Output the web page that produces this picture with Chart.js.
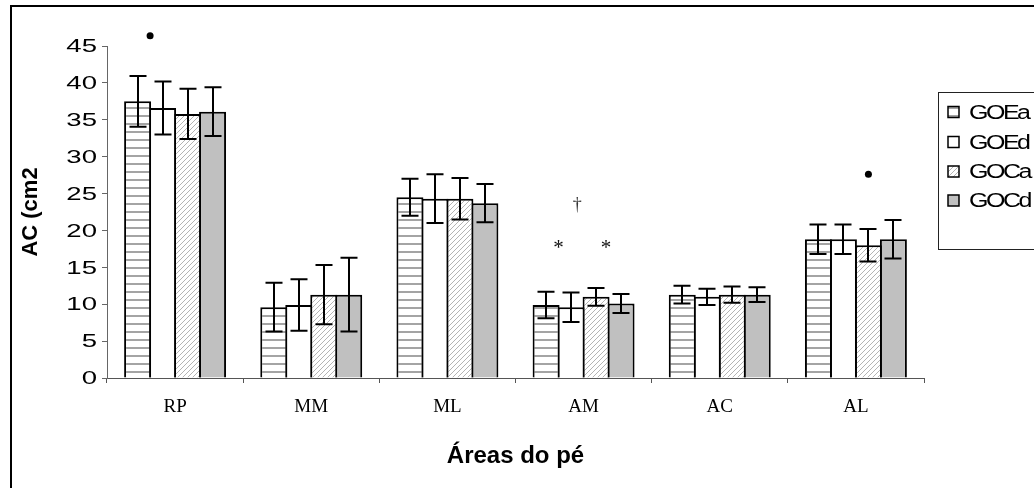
<!DOCTYPE html>
<html>
<head>
<meta charset="utf-8">
<script src="https://cdn.jsdelivr.net/npm/chart.js@4/dist/chart.umd.min.js"></script>
<style>
  html, body { margin: 0; padding: 0; background: #fff; }
  #wrap { width: 1034px; height: 488px; }
</style>
</head>
<body>
<div id="wrap"><canvas id="c" width="1034" height="488"></canvas></div>
<script>
// Foot areas and the four groups
const categories = ['RP', 'MM', 'ML', 'AM', 'AC', 'AL'];
const seriesNames = ['GOEa', 'GOEd', 'GOCa', 'GOCd'];

// Mean contact area (cm²) per area
const goeA = [37.5, 9.6, 24.5, 9.9, 11.3, 18.8];
const goeD = [36.6, 9.9, 24.3, 9.6, 11.0, 18.8];
const gocA = [35.8, 11.3, 24.3, 11.0, 11.3, 18.0];
const gocD = [36.1, 11.3, 23.7, 10.1, 11.3, 18.8];

// Standard deviations (error bar half-lengths)
const goeAErr = [3.45, 3.3, 2.5, 1.8, 1.2, 2.0];
const goeDErr = [3.6, 3.5, 3.3, 2.0, 1.1, 2.0];
const gocAErr = [3.4, 4.0, 2.8, 1.2, 1.1, 2.2];
const gocDErr = [3.3, 5.0, 2.6, 1.3, 1.0, 2.6];

// Value axis ticks
const yTicks = [0, 5, 10, 15, 20, 25, 30, 35, 40, 45];

// Significance marks: symbol, area, position among the bars, height
const markSymbols = ['•', '*', '†', '*', '•'];
const markCategory = ['RP', 'AM', 'AM', 'AM', 'AL'];
const markSlot = [0.5, 0.5, 1.25, 2.4, 2];
const markValues = [46.4, 18.2, 23.4, 18.2, 27.6];

const seriesValues = [goeA, goeD, gocA, gocD];
const seriesErrors = [goeAErr, goeDErr, gocAErr, gocDErr];

// Fill patterns
function tile(w, h, draw) {
  const t = document.createElement('canvas');
  t.width = w; t.height = h;
  const g = t.getContext('2d');
  g.fillStyle = '#fff';
  g.fillRect(0, 0, w, h);
  draw(g, w, h);
  return document.getElementById('c').getContext('2d').createPattern(t, 'repeat');
}
const stripes = tile(8, 8, (g, w) => {
  g.fillStyle = '#a4a4a4';
  g.fillRect(0, 3, w, 2);
});
const hatch = tile(5, 5, (g, s) => {
  g.fillStyle = '#b4b4b4';
  for (let i = 0; i < s; i++) g.fillRect(i, s - 1 - i, 1, 1);
});
const fills = [stripes, '#ffffff', hatch, '#c0c0c0'];

// Outer frame of the figure
const framePlugin = {
  id: 'frame',
  beforeDraw(chart) {
    const ctx = chart.ctx;
    ctx.save();
    ctx.fillStyle = '#000';
    ctx.fillRect(10, 5, 2, chart.height);
    ctx.fillRect(10, 5, chart.width, 2);
    ctx.restore();
  }
};

// Error bars and significance marks
const errorPlugin = {
  id: 'errorBars',
  afterDatasetsDraw(chart) {
    const ctx = chart.ctx;
    const y = chart.scales.y;
    ctx.save();
    ctx.strokeStyle = '#000';
    ctx.lineWidth = 2;
    seriesErrors.forEach((errs, di) => {
      const meta = chart.getDatasetMeta(di);
      meta.data.forEach((bar, i) => {
        const v = seriesValues[di][i];
        const top = y.getPixelForValue(v + errs[i]);
        const bot = y.getPixelForValue(v - errs[i]);
        const x = Math.round(bar.x);
        const cap = 8.5;
        ctx.beginPath();
        ctx.moveTo(x, top); ctx.lineTo(x, bot);
        ctx.moveTo(x - cap, top); ctx.lineTo(x + cap, top);
        ctx.moveTo(x - cap, bot); ctx.lineTo(x + cap, bot);
        ctx.stroke();
      });
    });

    markSymbols.forEach((sym, k) => {
      const ci = categories.indexOf(markCategory[k]);
      const s = markSlot[k];
      const lo = Math.floor(s), hi = Math.min(lo + 1, seriesNames.length - 1);
      const xa = chart.getDatasetMeta(lo).data[ci].x;
      const xb = chart.getDatasetMeta(hi).data[ci].x;
      const px = xa + (xb - xa) * (s - lo);
      const py = y.getPixelForValue(markValues[k]);
      ctx.fillStyle = '#000';
      if (sym === '•') {
        ctx.beginPath();
        ctx.arc(px, py, 3.5, 0, Math.PI * 2);
        ctx.fill();
      } else {
        ctx.font = (sym === '*' ? '21px' : '18px') + ' "Liberation Serif", serif';
        ctx.textAlign = 'center';
        ctx.textBaseline = 'alphabetic';
        const m = ctx.measureText(sym);
        ctx.fillStyle = sym === '*' ? '#111' : '#333';
        ctx.fillText(sym, px, py + (m.actualBoundingBoxAscent - m.actualBoundingBoxDescent) / 2);
      }
    });
    ctx.restore();
  }
};

// Wide value-axis labels and the boxed legend
const labelsPlugin = {
  id: 'sideLabels',
  afterDraw(chart) {
    const ctx = chart.ctx;
    const y = chart.scales.y;
    ctx.save();
    ctx.fillStyle = '#000';
    ctx.font = '19px "Liberation Sans", Arial, sans-serif';
    ctx.textAlign = 'right';
    ctx.textBaseline = 'middle';
    y.ticks.forEach(t => {
      const py = y.getPixelForValue(t.value);
      ctx.save();
      ctx.translate(y.right - 10, py + 1);
      ctx.scale(1.45, 1);
      ctx.fillText(String(t.value), 0, 0);
      ctx.restore();
    });

    // legend
    const bx = 938.5, by = 92.5;
    ctx.strokeStyle = '#222';
    ctx.lineWidth = 1;
    ctx.strokeRect(bx, by, 200, 157);
    const rowY = [112, 142, 171.5, 200.5];
    seriesNames.forEach((name, i) => {
      const cy = rowY[i];
      ctx.fillStyle = fills[i];
      ctx.fillRect(948, cy - 5.5, 11, 11);
      ctx.strokeStyle = '#000';
      ctx.lineWidth = 1.5;
      ctx.strokeRect(948, cy - 5.5, 11, 11);
      ctx.save();
      ctx.fillStyle = '#000';
      ctx.font = '20px "Liberation Sans", Arial, sans-serif';
      ctx.textAlign = 'left';
      ctx.textBaseline = 'middle';
      ctx.letterSpacing = '-2px';
      ctx.translate(969, cy + 1);
      ctx.scale(1.25, 1);
      ctx.fillText(name, 0, 0);
      ctx.restore();
    });
    ctx.restore();
  }
};

new Chart(document.getElementById('c'), {
  type: 'bar',
  data: {
    labels: categories,
    datasets: seriesNames.map((name, i) => ({
      label: name,
      data: seriesValues[i],
      backgroundColor: fills[i],
      borderColor: '#000',
      borderWidth: 2,
      borderSkipped: 'start',
      barPercentage: 1.08,
      categoryPercentage: 0.734
    }))
  },
  options: {
    responsive: false,
    animation: false,
    devicePixelRatio: 1,
    layout: { padding: { left: 0, right: 110, top: 46, bottom: 0 } },
    plugins: {
      legend: { display: false },
      tooltip: { enabled: false }
    },
    scales: {
      x: {
        grid: { drawOnChartArea: false, tickLength: 5, color: '#555', offset: true },
        border: { display: true, color: '#555', width: 1 },
        ticks: {
          color: '#000',
          padding: 13,
          maxRotation: 0,
          font: { family: '"Liberation Serif", "Times New Roman", serif', size: 19 }
        },
        title: {
          display: true,
          text: 'Áreas do pé',
          color: '#000',
          font: { family: '"Liberation Sans", Arial, sans-serif', size: 24, weight: 'bold' },
          padding: { top: 0, bottom: 17 }
        },
        afterFit(s) { s.height = 110; }
      },
      y: {
        min: 0,
        max: 45,
        afterBuildTicks(s) { s.ticks = yTicks.map(v => ({ value: v })); },
        grid: { drawOnChartArea: false, tickLength: 5, color: '#666' },
        border: { display: true, color: '#666', width: 1 },
        ticks: { display: false },
        title: {
          display: true,
          text: 'AC (cm2',
          color: '#000',
          font: { family: '"Liberation Sans", Arial, sans-serif', size: 22, weight: 'bold' },
          padding: { top: 18, bottom: 0 }
        },
        afterFit(s) { s.width = 107; }
      }
    }
  },
  plugins: [framePlugin, errorPlugin, labelsPlugin]
});
</script>
</body>
</html>
